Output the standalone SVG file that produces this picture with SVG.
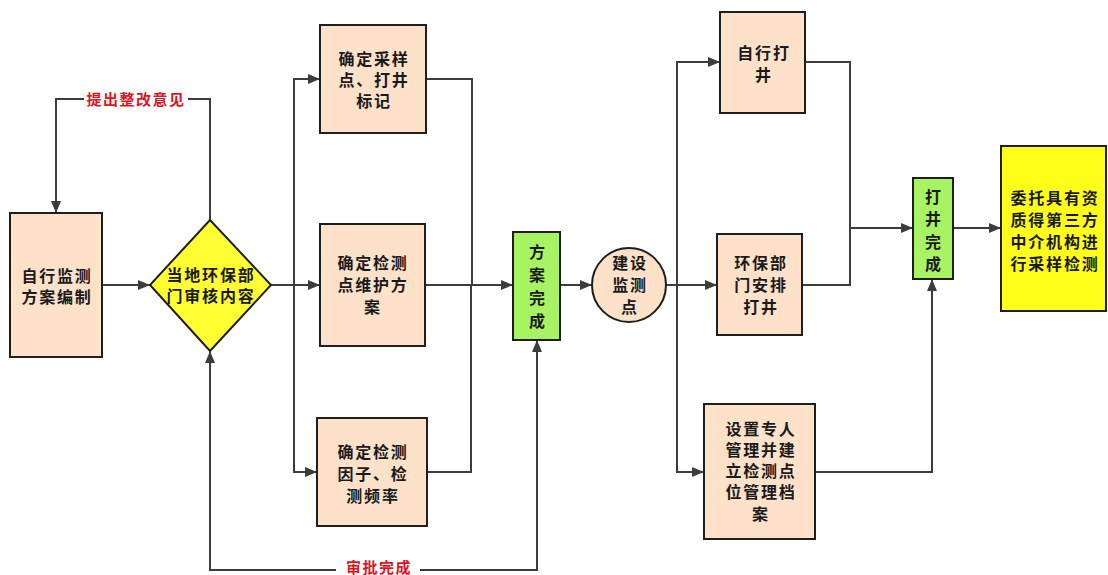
<svg xmlns="http://www.w3.org/2000/svg" width="1108" height="575" viewBox="0 0 1108 575">
<style>
.box{fill:#fde1c8;stroke:#1e1e1e;stroke-width:2}
.green{fill:#a8f363;stroke:#1e1e1e;stroke-width:2}
.yel{fill:#ffff1a;stroke:#1e1e1e;stroke-width:2}
.t{font-family:"Liberation Sans","Noto Sans CJK SC",sans-serif;font-size:16px;font-weight:bold;fill:#1a1a1a;text-anchor:middle;letter-spacing:1.8px}
.red{font-family:"Liberation Sans","Noto Sans CJK SC",sans-serif;font-size:15px;font-weight:bold;fill:#e0141e;text-anchor:middle;letter-spacing:1.5px}
.c{fill:none;stroke:#3c3c3c;stroke-width:2}
</style>
<defs>
<marker id="ah" viewBox="0 0 12 10" refX="12" refY="5" markerWidth="12" markerHeight="10" markerUnits="userSpaceOnUse" orient="auto">
<path d="M0,0 L12,5 L0,10 z" fill="#3c3c3c"/>
</marker>
</defs>
<rect width="1108" height="575" fill="#ffffff"/>
<g id="connectors">
<path class="c" d="M102,285 H150" marker-end="url(#ah)"/>
<path class="c" d="M210,220 V99 H56 V213" marker-end="url(#ah)"/>
<path class="c" d="M271,285 H320" marker-end="url(#ah)"/>
<path class="c" d="M294,285 V79 H320" marker-end="url(#ah)"/>
<path class="c" d="M294,285 V472 H317" marker-end="url(#ah)"/>
<path class="c" d="M426,79 H472 V285"/>
<path class="c" d="M427,472 H471 V285"/>
<path class="c" d="M425,285 H513" marker-end="url(#ah)"/>
<path class="c" d="M375,570 H210 V351" marker-end="url(#ah)"/>
<path class="c" d="M375,570 H537 V340" marker-end="url(#ah)"/>
<path class="c" d="M560,285 H592" marker-end="url(#ah)"/>
<path class="c" d="M666,285 H717" marker-end="url(#ah)"/>
<path class="c" d="M677,285 V62 H720" marker-end="url(#ah)"/>
<path class="c" d="M677,285 V472 H704" marker-end="url(#ah)"/>
<path class="c" d="M805,62 H850 V228"/>
<path class="c" d="M802,285 H850 V228"/>
<path class="c" d="M850,228 H913" marker-end="url(#ah)"/>
<path class="c" d="M815,472 H932 V279" marker-end="url(#ah)"/>
<path class="c" d="M953,228 H1001" marker-end="url(#ah)"/>
<rect x="84" y="90" width="104" height="20" fill="#ffffff"/>
<text class="red" x="136" y="105">提出整改意见</text>
<rect x="336" y="560" width="84" height="15" fill="#ffffff"/>
<text class="red" x="379" y="573">审批完成</text>
</g>
<g id="n1">
<rect class="box" x="10" y="213" width="92" height="144"/>
<text class="t" x="57" y="282">自行监测</text>
<text class="t" x="57" y="303">方案编制</text>
</g>
<g id="n2">
<polygon points="210,220 271,285 210,351 150,285" fill="#ffff33" stroke="#1e1e1e" stroke-width="2"/>
<text class="t" x="211" y="281">当地环保部</text>
<text class="t" x="211" y="302">门审核内容</text>
</g>
<g id="n3">
<rect class="box" x="320" y="25" width="106" height="108"/>
<text class="t" x="374" y="65">确定采样</text>
<text class="t" x="374" y="86">点、打井</text>
<text class="t" x="374" y="107">标记</text>
</g>
<g id="n4">
<rect class="box" x="320" y="224" width="105" height="122"/>
<text class="t" x="373" y="269">确定检测</text>
<text class="t" x="373" y="291">点维护方</text>
<text class="t" x="373" y="313">案</text>
</g>
<g id="n5">
<rect class="box" x="317" y="418" width="110" height="108"/>
<text class="t" x="373" y="458">确定检测</text>
<text class="t" x="373" y="480">因子、检</text>
<text class="t" x="373" y="502">测频率</text>
</g>
<g id="n6">
<rect class="green" x="513" y="232" width="47" height="108"/>
<text class="t" x="538" y="258">方</text>
<text class="t" x="538" y="281">案</text>
<text class="t" x="538" y="304">完</text>
<text class="t" x="538" y="327">成</text>
</g>
<g id="n7">
<circle cx="629" cy="285" r="37" fill="#fde1c8" stroke="#1e1e1e" stroke-width="2"/>
<text class="t" x="630" y="269">建设</text>
<text class="t" x="630" y="291">监测</text>
<text class="t" x="630" y="313">点</text>
</g>
<g id="n8">
<rect class="box" x="720" y="12" width="85" height="101"/>
<text class="t" x="764" y="59">自行打</text>
<text class="t" x="764" y="81">井</text>
</g>
<g id="n9">
<rect class="box" x="717" y="234" width="85" height="101"/>
<text class="t" x="761" y="269">环保部</text>
<text class="t" x="761" y="291">门安排</text>
<text class="t" x="761" y="313">打井</text>
</g>
<g id="n10">
<rect class="box" x="704" y="404" width="111" height="135"/>
<text class="t" x="761" y="435">设置专人</text>
<text class="t" x="761" y="456">管理并建</text>
<text class="t" x="761" y="477">立检测点</text>
<text class="t" x="761" y="498">位管理档</text>
<text class="t" x="761" y="520">案</text>
</g>
<g id="n11">
<rect class="green" x="913" y="178" width="40" height="101"/>
<text class="t" x="934" y="203">打</text>
<text class="t" x="934" y="225">井</text>
<text class="t" x="934" y="248">完</text>
<text class="t" x="934" y="270">成</text>
</g>
<g id="n12">
<rect class="yel" x="1001" y="146" width="105" height="165"/>
<text class="t" x="1055" y="204">委托具有资</text>
<text class="t" x="1055" y="226">质得第三方</text>
<text class="t" x="1055" y="248">中介机构进</text>
<text class="t" x="1055" y="270">行采样检测</text>
</g>
</svg>
